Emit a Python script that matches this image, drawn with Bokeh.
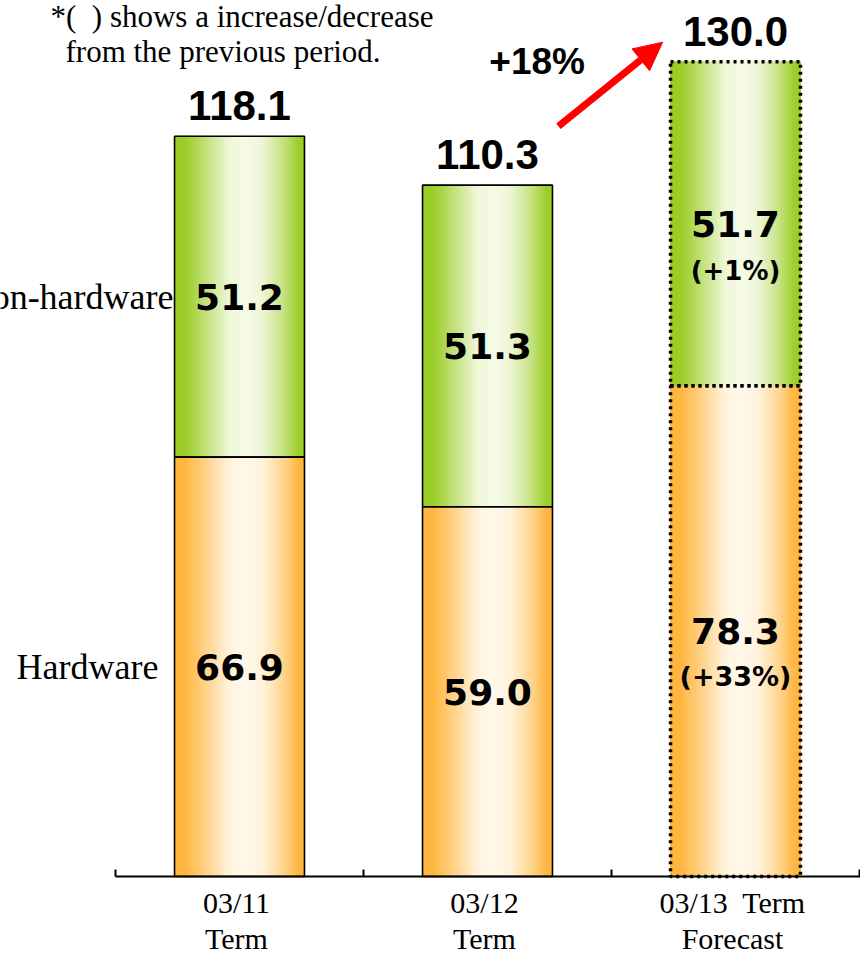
import numpy as np
from bokeh.plotting import figure
from bokeh.models import Range1d, Arrow, NormalHead, ColumnDataSource
from bokeh.core.properties import value
from bokeh.embed import file_html
from bokeh.resources import INLINE

# ---------------- data ----------------
terms = ["03/11\nTerm", "03/12\nTerm", "03/13\u00a0 Term\nForecast"]
hardware = [66.9, 59.0, 78.3]
non_hardware = [51.2, 51.3, 51.7]
totals = [118.1, 110.3, 130.0]
hw_change = ["", "", "(+33%)"]
nhw_change = ["", "", "(+1%)"]
growth_label = "+18%"
series_names = ["Hardware", "Non-hardware"]
note_lines = ["*(\u00a0\u00a0) shows a increase/decrease", "from the previous period."]
forecast = [False, False, True]

# ---------------- layout / style ----------------
W, H = 860, 957
LEFT_PX = 115          # where category 0 starts
BASE_PX = 876          # baseline (value 0)
PX_PER_CAT = 248
PX_PER_UNIT = 6.268
x_lo = -LEFT_PX / PX_PER_CAT
x_hi = (W - LEFT_PX) / PX_PER_CAT
y_hi = BASE_PX / PX_PER_UNIT
y_lo = -(H - BASE_PX) / PX_PER_UNIT

BAR_W = 0.524
ORANGE_EDGE = np.array([255, 180, 60])
ORANGE_MID = np.array([255, 248, 234])
GREEN_EDGE = np.array([153, 204, 34])
GREEN_MID = np.array([245, 250, 230])
N_STRIPS = 60
stops_t = [0.0, 0.09, 0.25, 0.42, 0.55, 0.68, 0.85, 0.95, 1.0]
stops_w = [0.0, 0.04, 0.45, 0.92, 1.0, 0.92, 0.45, 0.06, 0.0]

def hexcol(c):
    c = np.clip(np.round(c), 0, 255).astype(int)
    return "#%02x%02x%02x" % tuple(c)

centers = [i + 0.5 for i in range(len(terms))]

p = figure(width=W, height=H, x_range=Range1d(x_lo, x_hi), y_range=Range1d(y_lo, y_hi),
           output_backend="svg", toolbar_location=None,
           x_axis_location=None, y_axis_location=None,
           min_border_left=0, min_border_right=0, min_border_top=0, min_border_bottom=0)
p.outline_line_color = None
p.xgrid.visible = False
p.ygrid.visible = False
p.background_fill_color = "white"
p.border_fill_color = "white"

# gradient strips
strips = dict(left=[], right=[], bottom=[], top=[], color=[])
edges = np.linspace(0, 1, N_STRIPS + 1)
for c, hw, nh in zip(centers, hardware, non_hardware):
    l0 = c - BAR_W / 2
    for k in range(N_STRIPS):
        tm = (edges[k] + edges[k + 1]) / 2
        w = np.interp(tm, stops_t, stops_w)
        for (b, t, e, m) in [(0, hw, ORANGE_EDGE, ORANGE_MID), (hw, hw + nh, GREEN_EDGE, GREEN_MID)]:
            strips["left"].append(l0 + edges[k] * BAR_W)
            strips["right"].append(l0 + edges[k + 1] * BAR_W)
            strips["bottom"].append(b)
            strips["top"].append(t)
            strips["color"].append(hexcol(e * (1 - w) + m * w))
p.quad(left="left", right="right", bottom="bottom", top="top", fill_color="color",
       line_color="color", line_width=1, source=ColumnDataSource(strips))

# outlines
for c, hw, nh, fc in zip(centers, hardware, non_hardware, forecast):
    kw = dict(line_color="black", fill_color=None)
    if fc:
        kw.update(line_width=3.5, line_dash="3 4")
    else:
        kw.update(line_width=1.6)
    p.quad(left=[c - BAR_W / 2] * 2, right=[c + BAR_W / 2] * 2,
           bottom=[0, hw], top=[hw, hw + nh], **kw)

# x axis (drawn with the plot's own scales)
p.segment(x0=[0], x1=[x_hi], y0=[0], y1=[0], line_color="black", line_width=2)
tick_len = 7 / PX_PER_UNIT
p.segment(x0=[0, 1, 2, 3], x1=[0, 1, 2, 3], y0=[0] * 4, y1=[tick_len] * 4,
          line_color="black", line_width=2)
SERIF = value("Liberation Serif")
p.text(x=centers, y=[0] * 3, text=terms, y_offset=9, x_offset=-3, text_font=SERIF,
       text_font_size="30px", text_align="center", text_baseline="top",
       text_line_height=1.12, text_color="black")

VAL_FONT = value("Liberation Sans")
WIDE_FONT = value("DejaVu Sans")
# segment values
p.text(x=centers, y=[h / 2 for h in hardware], text=["%.1f" % v for v in hardware],
       text_font=WIDE_FONT, text_font_style="bold", text_font_size="36px",
       text_align="center", text_baseline="middle", text_color="black")
p.text(x=centers, y=[h + n / 2 for h, n in zip(hardware, non_hardware)],
       text=["%.1f" % v for v in non_hardware],
       text_font=WIDE_FONT, text_font_style="bold", text_font_size="36px",
       text_align="center", text_baseline="middle", text_color="black")
# change labels
p.text(x=centers, y=[h / 2 for h in hardware], text=hw_change, y_offset=45,
       text_font=WIDE_FONT, text_font_style="bold", text_font_size="27px",
       text_align="center", text_baseline="middle", text_color="black")
p.text(x=centers, y=[h + n / 2 for h, n in zip(hardware, non_hardware)], text=nhw_change,
       y_offset=47, text_font=WIDE_FONT, text_font_style="bold", text_font_size="26px",
       text_align="center", text_baseline="middle", text_color="black")
# totals
p.text(x=centers, y=totals, text=["%.1f" % t for t in totals], y_offset=-16,
       text_font=VAL_FONT, text_font_style="bold", text_font_size="42px",
       text_align="center", text_baseline="bottom", text_color="black")

# growth arrow
p.add_layout(Arrow(end=NormalHead(size=28, fill_color="red", line_color="red"),
                   x_start=centers[1] + BAR_W / 2 + 0.024, y_start=totals[1] + 9.4,
                   x_end=centers[2] - BAR_W / 2 - 0.032, y_end=totals[2] + 3.1,
                   line_color="red", line_width=7))
p.text(x=[centers[1] + 0.2], y=[totals[2]], text=[growth_label],
       text_font=VAL_FONT, text_font_style="bold", text_font_size="37px",
       text_align="center", text_baseline="middle", text_color="black")

# series names on the left
bar0_left = centers[0] - BAR_W / 2
p.text(x=[bar0_left], y=[hardware[0] / 2], x_offset=-16, text=[series_names[0]],
       text_align="right", text_baseline="middle", text_font=SERIF,
       text_font_size="36px", text_color="black")
p.text(x=[bar0_left], y=[hardware[0] + non_hardware[0] / 2], x_offset=-1,
       text=[series_names[1]], text_align="right", text_baseline="middle",
       text_font=SERIF, text_font_size="36px", text_color="black")

# note
p.text(x=[x_lo], y=[y_hi], x_offset=50, y_offset=-2, text=[note_lines[0]],
       text_align="left", text_baseline="top", text_font=SERIF,
       text_font_size="31px", text_color="black")
p.text(x=[x_lo], y=[y_hi], x_offset=65, y_offset=33, text=[note_lines[1]],
       text_align="left", text_baseline="top", text_font=SERIF,
       text_font_size="31px", text_color="black")

open("out.html", "w").write(file_html(p, INLINE))
